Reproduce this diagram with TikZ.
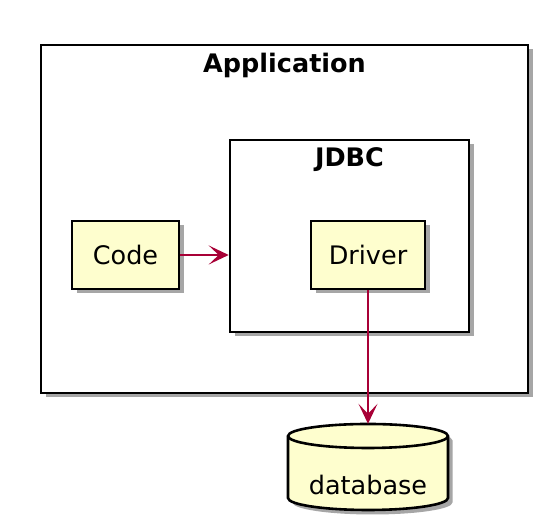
\documentclass[tikz,border=0pt]{standalone}
\usepackage{fontspec}
\setmainfont{DejaVu Sans}
\usetikzlibrary{arrows.meta,shadows}
\definecolor{umlfill}{HTML}{FEFECE}
\definecolor{umlarrow}{HTML}{A80036}
\begin{document}
\begin{tikzpicture}[x=1pt,y=1pt,
    shade/.style={drop shadow={shadow xshift=4.5pt,shadow yshift=-4.5pt,opacity=0.35,fill=black}},
    frame/.style={draw,line width=2.6pt,fill=white,shade,inner sep=0pt},
    comp/.style={draw,line width=2.6pt,fill=umlfill,shade,inner sep=0pt,minimum height=68pt,font=\fontsize{25.5}{30}\selectfont},
    title/.style={font=\bfseries\fontsize{25.5}{30}\selectfont},
    arr/.style={draw=umlarrow,line width=1.6pt,-{Stealth[length=20pt,width=19pt,inset=10pt,fill=umlarrow]}}]
  \useasboundingbox (0,0) rectangle (547,529);
  % Outer frame
  \node[frame,minimum width=487pt,minimum height=348pt] (app) at (284.5,310) {};
  \node[title] (apptitle) at (284.5,464) {Application};
  % Inner frame
  \node[frame,minimum width=239pt,minimum height=192pt] (jdbc) at (349.5,293) {};
  \node[title] (jdbctitle) at (349.5,369) {JDBC};
  % Components
  \node[comp,minimum width=107pt] (code) at (125.5,274) {Code};
  \node[comp,minimum width=114pt] (driver) at (368,274) {Driver};
  % Database
  \node[minimum width=160pt,minimum height=86pt,inner sep=0pt] (db) at (368,62) {};
  \filldraw[line width=2.6pt,fill=umlfill,shade] (288,93) -- (288,31)
    arc[start angle=180,end angle=360,x radius=80,y radius=12] -- (448,93)
    arc[start angle=0,end angle=180,x radius=80,y radius=12] -- cycle;
  \draw[line width=2.6pt] (288,93) arc[start angle=180,end angle=360,x radius=80,y radius=12];
  \node[font=\fontsize{25.5}{30}\selectfont] (dblabel) at (368,44) {database};
  % Arrows
  \draw[arr] (code.east) -- (code.east -| jdbc.west);
  \draw[arr] (driver.south) -- (db.north);
\end{tikzpicture}
\end{document}
